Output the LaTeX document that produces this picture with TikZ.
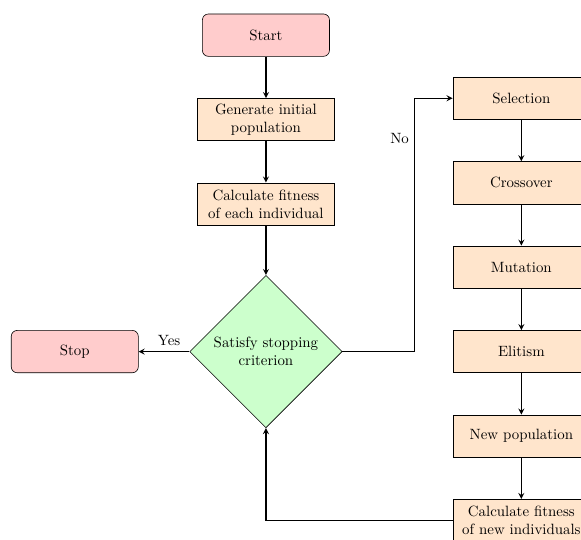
\documentclass[tikz,border=0pt]{standalone}
\usepackage{amsmath}
\usepackage{amssymb}
\usetikzlibrary{shapes.geometric,positioning,arrows}

\tikzset{
startstop/.style={rectangle, rounded corners, minimum width=3cm, minimum height=1cm, text centered, draw=black, fill=red!20},
process/.style={rectangle, minimum width=3cm, minimum height=1cm, text width=3cm, text centered, draw=black, fill=orange!20},
decision/.style={diamond, aspect=1, minimum width=3.6cm, minimum height=3.6cm, text width=2.5cm, inner sep=0pt, text centered, draw=black, fill=green!20},
arrow/.style={thick,->,>=stealth}
}

\begin{document}
\begin{tikzpicture}
\useasboundingbox (-6.28,-11.92) rectangle (7.44,0.83);
\node (start) [startstop] at (0,0) {Start};
\node (gen) [process, below=0.98cm of start] {Generate initial population};
\node (fit) [process, below=0.98cm of gen] {Calculate fitness of each individual};
\node (dec) [decision, below=1.17cm of fit] {Satisfy stopping criterion};
\node (stop) [startstop, left=1.2cm of dec] {Stop};
\node (eli) [process, right=2.6cm of dec] {Elitism};
\node (mut) [process, above=0.98cm of eli] {Mutation};
\node (cross) [process, above=0.98cm of mut] {Crossover};
\node (sel) [process, above=0.98cm of cross] {Selection};
\node (newpop) [process, below=0.98cm of eli] {New population};
\node (newfit) [process, below=0.98cm of newpop] {Calculate fitness of new individuals};
\coordinate (nobend) at ([xshift=1.7cm]dec.east);
\draw [arrow](start)--(gen);
\draw [arrow](gen)--(fit);
\draw [arrow](fit)--(dec);
\draw [arrow](dec)--node[pos=0.4,above]{Yes}(stop);
\draw [arrow](dec.east)--(nobend)|-node[pos=0.42,left]{No}(sel.west);
\draw [arrow](sel)--(cross);
\draw [arrow](cross)--(mut);
\draw [arrow](mut)--(eli);
\draw [arrow](eli)--(newpop);
\draw [arrow](newpop)--(newfit);
\draw [arrow](newfit.west)-|(dec.south);
\end{tikzpicture}
\end{document}
